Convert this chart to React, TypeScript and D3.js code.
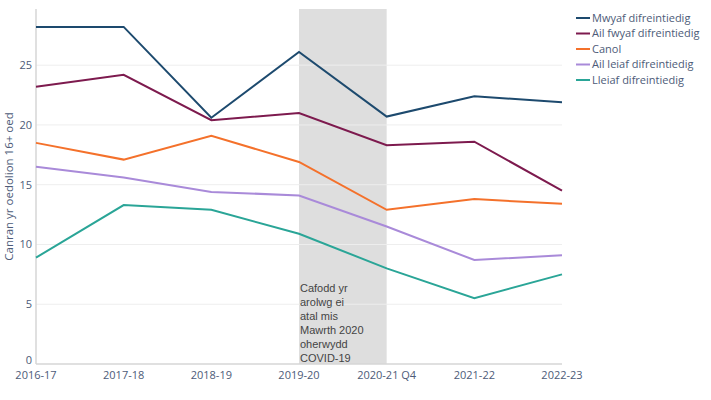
import React, { useEffect, useRef } from 'react';
import * as d3 from 'd3';

const years = ['2016-17', '2017-18', '2018-19', '2019-20', '2020-21 Q4', '2021-22', '2022-23'];
const seriesNames = ['Mwyaf difreintiedig', 'Ail fwyaf difreintiedig', 'Canol', 'Ail leiaf difreintiedig', 'Lleiaf difreintiedig'];
const seriesColors = ['#1d4a6e', '#7d1a4e', '#f4712b', '#a98ad9', '#2aa597'];
const mwyaf = [28.2, 28.2, 20.6, 26.1, 20.7, 22.4, 21.9];
const ailFwyaf = [23.2, 24.2, 20.4, 21.0, 18.3, 18.6, 14.5];
const canol = [18.5, 17.1, 19.1, 16.9, 12.9, 13.8, 13.4];
const ailLeiaf = [16.5, 15.6, 14.4, 14.1, 11.5, 8.7, 9.1];
const lleiaf = [8.9, 13.3, 12.9, 10.9, 8.0, 5.5, 7.5];
const yTicks = [0, 5, 10, 15, 20, 25];
const noteLines = ['Cafodd yr', 'arolwg ei', 'atal mis', 'Mawrth 2020', 'oherwydd', 'COVID-19'];

const App: React.FC = () => {
  const ref = useRef<SVGSVGElement | null>(null);

  useEffect(() => {
    const width = 711;
    const height = 400;
    const margin = { top: 9, right: 149, bottom: 36, left: 36 };
    const font = '"Open Sans", "DejaVu Sans", sans-serif';

    const svg = d3.select(ref.current)
      .attr('width', width)
      .attr('height', height)
      .style('display', 'block')
      .style('background', '#ffffff');
    svg.selectAll('*').remove();

    const x = d3.scalePoint<string>()
      .domain(years)
      .range([margin.left, width - margin.right]);
    const y = d3.scaleLinear()
      .domain([0, 29.7])
      .range([height - margin.bottom, margin.top]);

    // covid shaded band
    svg.append('rect')
      .attr('x', x('2019-20')!)
      .attr('y', margin.top)
      .attr('width', x('2020-21 Q4')! - x('2019-20')!)
      .attr('height', y(0) - margin.top)
      .attr('fill', '#dedede');

    // gridlines
    svg.append('g')
      .selectAll('line')
      .data(yTicks.filter(d => d > 0))
      .join('line')
      .attr('x1', margin.left)
      .attr('x2', width - margin.right)
      .attr('y1', d => y(d))
      .attr('y2', d => y(d))
      .attr('stroke', '#eeeeee')
      .attr('stroke-width', 1);

    // axes lines
    svg.append('line')
      .attr('x1', margin.left).attr('x2', margin.left)
      .attr('y1', margin.top).attr('y2', y(0))
      .attr('stroke', '#d6d6d6').attr('stroke-width', 1.5);
    svg.append('line')
      .attr('x1', margin.left).attr('x2', width - margin.right)
      .attr('y1', y(0)).attr('y2', y(0))
      .attr('stroke', '#d6d6d6').attr('stroke-width', 1.5);

    // y tick labels
    svg.append('g')
      .selectAll('text')
      .data(yTicks)
      .join('text')
      .attr('x', margin.left - 4)
      .attr('y', d => y(d))
      .attr('dy', d => (d === 0 ? '0' : '0.35em'))
      .attr('text-anchor', 'end')
      .attr('fill', '#4d5b78')
      .style('font-family', font)
      .style('font-size', '11px')
      .text(d => d);

    // x tick labels
    svg.append('g')
      .selectAll('text')
      .data(years)
      .join('text')
      .attr('x', d => x(d)!)
      .attr('y', y(0) + 15)
      .attr('text-anchor', 'middle')
      .attr('fill', '#4d5b78')
      .style('font-family', font)
      .style('font-size', '11px')
      .text(d => d);

    // y axis title
    svg.append('text')
      .attr('transform', `translate(9, ${(margin.top + y(0)) / 2}) rotate(-90)`)
      .attr('text-anchor', 'middle')
      .attr('dy', '0.35em')
      .attr('fill', '#4d5b78')
      .style('font-family', font)
      .style('font-size', '11.5px')
      .text('Canran yr oedolion 16+ oed');

    // annotation
    svg.append('text')
      .attr('fill', '#444444')
      .style('font-family', '"Liberation Sans", Arial, sans-serif')
      .style('font-size', '11px')
      .selectAll('tspan')
      .data(noteLines)
      .join('tspan')
      .attr('x', x('2019-20')! + 1)
      .attr('y', (d, i) => 292 + i * 14)
      .text(d => d);

    // lines
    const allSeries = [mwyaf, ailFwyaf, canol, ailLeiaf, lleiaf];
    const line = d3.line<number>()
      .x((d, i) => x(years[i])!)
      .y(d => y(d));

    svg.append('g')
      .selectAll('path')
      .data(allSeries)
      .join('path')
      .attr('d', d => line(d))
      .attr('fill', 'none')
      .attr('stroke', (d, i) => seriesColors[i])
      .attr('stroke-width', 2);

    // legend
    const legend = svg.append('g')
      .selectAll('g')
      .data(seriesNames)
      .join('g')
      .attr('transform', (d, i) => `translate(576, ${18 + i * 15.5})`);
    legend.append('line')
      .attr('x1', 0).attr('x2', 14)
      .attr('stroke', (d, i) => seriesColors[i])
      .attr('stroke-width', 2);
    legend.append('text')
      .attr('x', 16)
      .attr('dy', '0.35em')
      .attr('fill', '#4d5b78')
      .style('font-family', font)
      .style('font-size', '11px')
      .text(d => d);
  }, []);

  return <svg ref={ref} style={{ position: 'absolute', left: 0, top: 0 }}></svg>;
};

export default App;
